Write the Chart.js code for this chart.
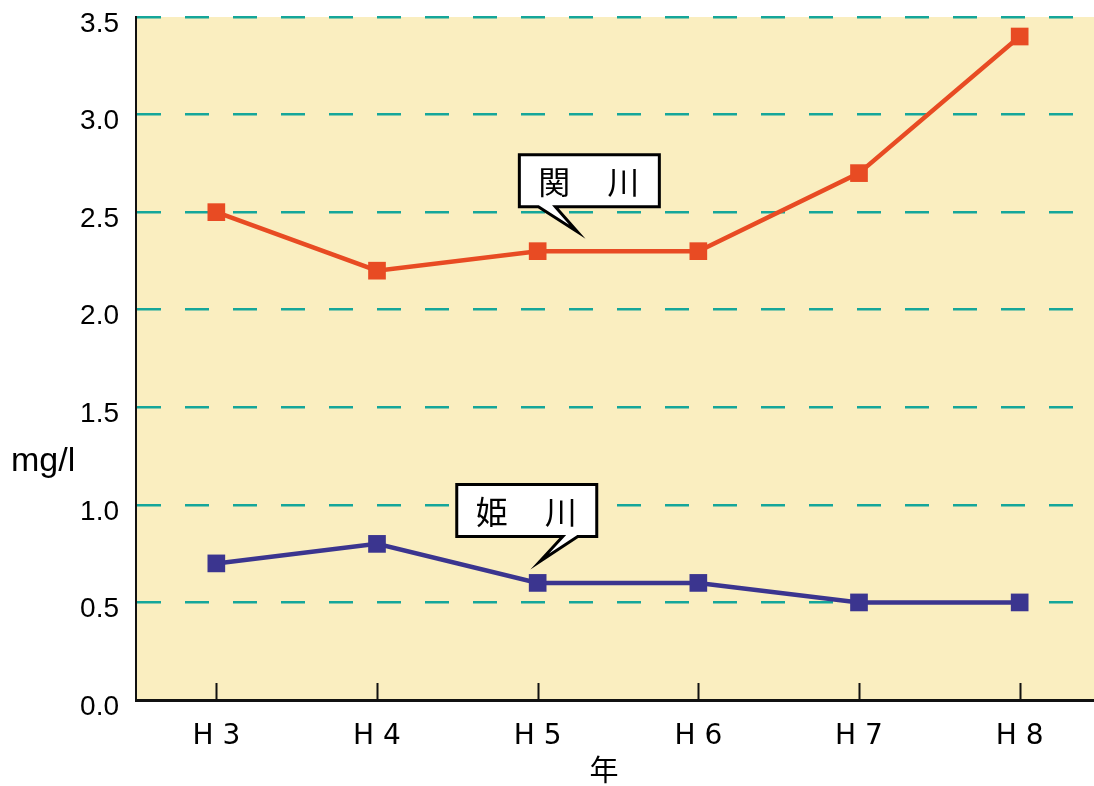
<!DOCTYPE html>
<html>
<head>
<meta charset="utf-8">
<script src="https://cdn.jsdelivr.net/npm/chart.js@4.4.1/dist/chart.umd.min.js"></script>
<style>
  html, body { margin: 0; padding: 0; background: #ffffff; overflow: hidden; }
  #c { display: block; }
</style>
</head>
<body>
<canvas id="c" width="1100" height="786" style="width:1100px;height:786px"></canvas>
<script>
// ---- data ----
const categories = ['H 3', 'H 4', 'H 5', 'H 6', 'H 7', 'H 8'];
const sekigawa = [2.5, 2.2, 2.3, 2.3, 2.7, 3.4];   // 関川
const himekawa = [0.7, 0.8, 0.6, 0.6, 0.5, 0.5];   // 姫川
const seriesNames = ['関川', '姫川'];
const yTicks = [0, 0.5, 1.0, 1.5, 2.0, 2.5, 3.0, 3.5];
const yTitle = 'mg/l';
const xTitle = '年';

// callouts: tip anchored at (category index, value), box offset in px from tip
const callouts = [
  { chars: ['関', '川'], tipIndex: 2.247, tipValue: 2.4, boxDx: -58, boxDy: -77, baseL: -39, baseR: -22 },
  { chars: ['姫', '川'], tipIndex: 2.013, tipValue: 0.71, boxDx: -83, boxDy: -77, baseL: 23, baseR: 38 }
];

const bgPlugin = {
  id: 'bg',
  beforeDraw(chart) {
    const { ctx, chartArea: a } = chart;
    ctx.save();
    ctx.fillStyle = '#faeec0';
    ctx.fillRect(a.left, a.top, a.right - a.left, a.bottom - a.top);
    ctx.restore();
  }
};

const extrasPlugin = {
  id: 'extras',
  afterDraw(chart) {
    const { ctx, chartArea: a } = chart;
    const xs = chart.scales.x;
    ctx.save();
    // inner x ticks
    ctx.strokeStyle = '#111';
    ctx.lineWidth = 2;
    categories.forEach((c, i) => {
      const px = Math.round(xs.getPixelForValue(i)) + 0.5;
      ctx.beginPath();
      ctx.moveTo(px, a.bottom);
      ctx.lineTo(px, a.bottom - 17);
      ctx.stroke();
    });
    // axis titles
    ctx.fillStyle = '#000';
    ctx.font = '34px "Liberation Sans", Arial, sans-serif';
    ctx.textAlign = 'left';
    ctx.textBaseline = 'middle';
    ctx.fillText(yTitle, 11, 462);
    ctx.font = '29px "Noto Sans CJK JP", sans-serif';
    ctx.textAlign = 'center';
    ctx.fillText(xTitle, 604, 770);
    ctx.restore();
  },
  afterDatasetsDraw(chart) {
    const { ctx } = chart;
    const xs = chart.scales.x, ys = chart.scales.y;
    callouts.forEach(co => {
      const tx = xs.getPixelForValue(0) + co.tipIndex * (xs.getPixelForValue(1) - xs.getPixelForValue(0));
      const ty = ys.getPixelForValue(co.tipValue);
      const bx = tx + co.boxDx, by = ty + co.boxDy, bw = 140, bh = 52;
      const bl = tx + co.baseL, br = tx + co.baseR;
      ctx.save();
      ctx.beginPath();
      ctx.moveTo(bx, by);
      ctx.lineTo(bx + bw, by);
      ctx.lineTo(bx + bw, by + bh);
      ctx.lineTo(br, by + bh);
      ctx.lineTo(tx, ty);
      ctx.lineTo(bl, by + bh);
      ctx.lineTo(bx, by + bh);
      ctx.closePath();
      ctx.fillStyle = '#ffffff';
      ctx.fill();
      ctx.lineWidth = 3;
      ctx.lineJoin = 'miter';
      ctx.strokeStyle = '#000';
      ctx.stroke();
      ctx.fillStyle = '#000';
      ctx.font = '32px "Noto Sans CJK JP", sans-serif';
      ctx.textAlign = 'center';
      ctx.textBaseline = 'middle';
      const cx = bx + bw / 2;
      ctx.fillText(co.chars[0], cx - 35, by + bh / 2 + 1);
      ctx.fillText(co.chars[1], cx + 34, by + bh / 2 + 1);
      ctx.restore();
    });
  }
};

function zeroPad(scale) {
  scale.paddingTop = 0; scale.paddingBottom = 0;
  scale.paddingLeft = 0; scale.paddingRight = 0;
}

new Chart(document.getElementById('c'), {
  type: 'line',
  data: {
    labels: categories,
    datasets: [
      {
        label: seriesNames[0],
        data: sekigawa,
        borderColor: '#e84b23',
        backgroundColor: '#e84b23',
        borderWidth: 4.5,
        pointStyle: 'rect',
        pointRadius: 12.5,
        pointBorderWidth: 0,
        pointHoverRadius: 12.5,
        tension: 0,
        clip: false
      },
      {
        label: seriesNames[1],
        data: himekawa,
        borderColor: '#3b358f',
        backgroundColor: '#3b358f',
        borderWidth: 4.5,
        pointStyle: 'rect',
        pointRadius: 12.5,
        pointBorderWidth: 0,
        pointHoverRadius: 12.5,
        tension: 0,
        clip: false
      }
    ]
  },
  options: {
    responsive: false,
    maintainAspectRatio: false,
    devicePixelRatio: 1,
    animation: false,
    events: [],
    layout: { autoPadding: false, padding: { top: 17, left: 0, right: 0, bottom: 0 } },
    plugins: { legend: { display: false }, tooltip: { enabled: false } },
    scales: {
      x: {
        type: 'category',
        offset: true,
        grid: { display: false, drawOnChartArea: false, drawTicks: false },
        border: { display: true, color: '#111', width: 3 },
        ticks: {
          color: '#000',
          padding: 20,
          font: { family: '"DejaVu Sans", sans-serif', size: 28 }
        },
        afterFit(scale) { scale.height = 86; zeroPad(scale); }
      },
      y: {
        min: 0,
        max: 3.5,
        afterBuildTicks(scale) { scale.ticks = yTicks.map(v => ({ value: v })); },
        grid: {
          color: '#15a69a',
          lineWidth: 2.5,
          drawTicks: false
        },
        border: { display: true, color: '#111', width: 2, dash: [24, 24] },
        ticks: {
          color: '#000',
          padding: 17,
          labelOffset: 7,
          font: { family: '"Liberation Sans", Arial, sans-serif', size: 28 },
          callback: v => Number(v).toFixed(1)
        },
        afterFit(scale) { scale.width = 136; zeroPad(scale); }
      }
    }
  },
  plugins: [bgPlugin, extrasPlugin]
});
</script>
</body>
</html>
